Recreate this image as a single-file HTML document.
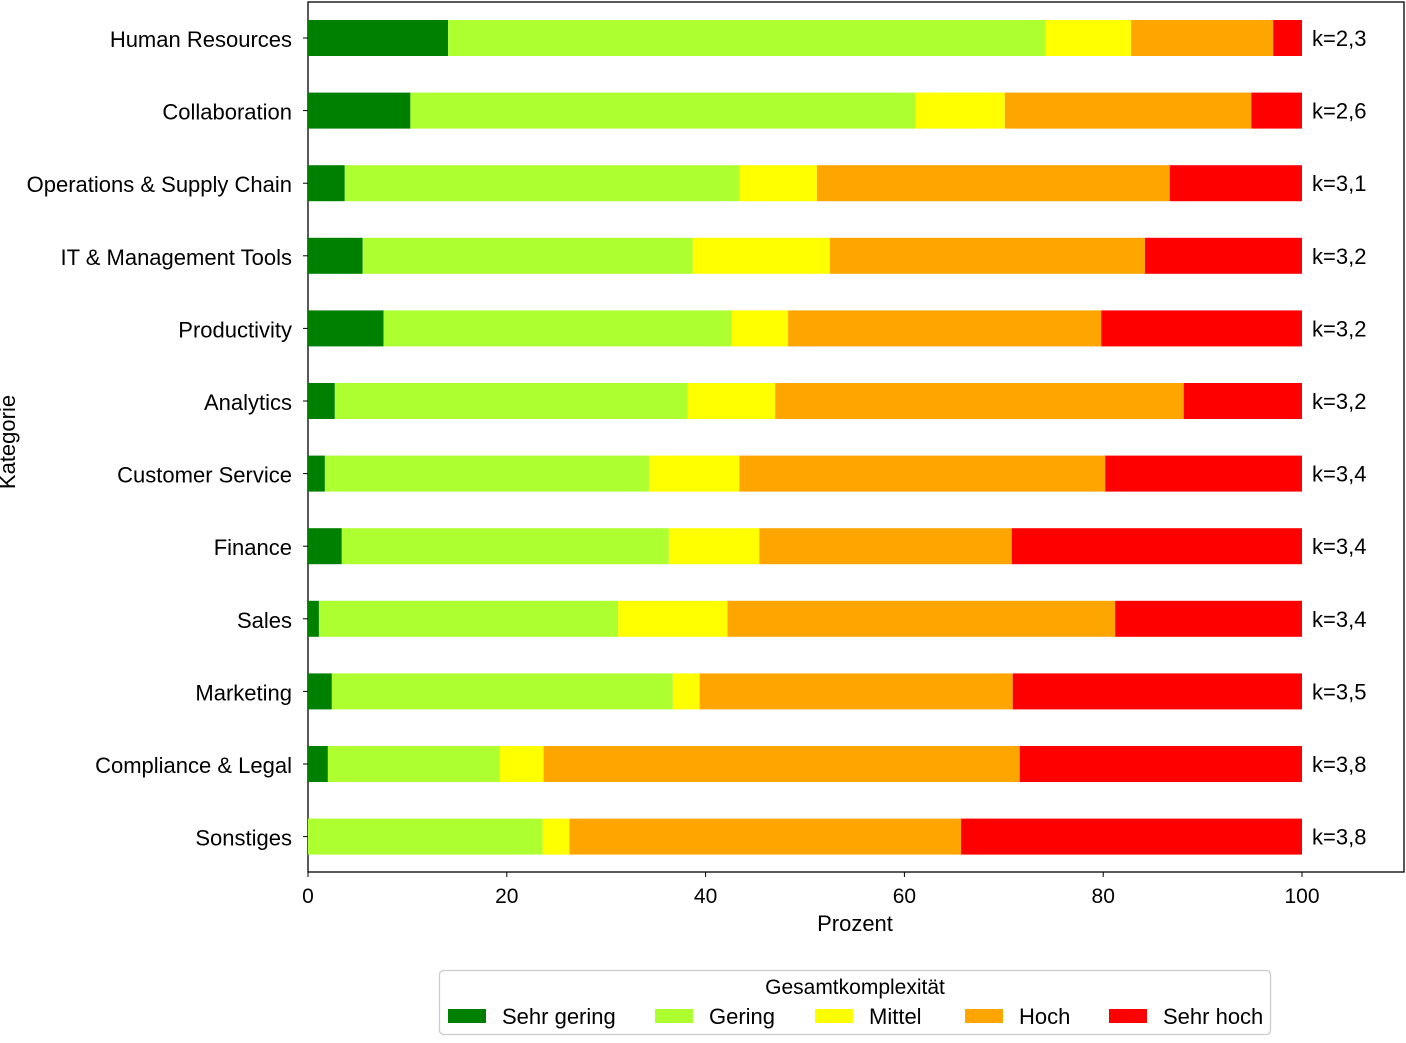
<!DOCTYPE html>
<html><head><meta charset="utf-8"><style>
body{margin:0;background:#fff}
svg{font-family:"Liberation Sans","DejaVu Sans",sans-serif}
</style></head><body>
<svg id="chart" width="1406" height="1038">
<rect x="308" y="2" width="1096" height="870" fill="none" stroke="#000" stroke-width="1.3"/>
<g id="bars"></g><g id="yticks"></g><g id="xticks"></g><g id="ann"></g>
<text x="855" y="931" font-size="22" text-anchor="middle">Prozent</text>
<text x="15" y="442" font-size="22" text-anchor="middle" transform="rotate(-90 15 442)">Kategorie</text>
<g>
<rect x="439.5" y="970.5" width="831" height="64" rx="4" fill="#fff" stroke="#ccc" stroke-width="1.3"/>
<text x="855" y="994" font-size="21" text-anchor="middle">Gesamtkomplexität</text>
<g id="leg"></g>
</g>
</svg>
<script>
const categories=["Human Resources","Collaboration","Operations & Supply Chain","IT & Management Tools","Productivity","Analytics","Customer Service","Finance","Sales","Marketing","Compliance & Legal","Sonstiges"];
const sehrGering=[14.1,10.3,3.7,5.5,7.6,2.7,1.7,3.4,1.1,2.4,2.0,0];
const gering=[60.1,50.8,39.7,33.2,35.0,35.5,32.6,32.9,30.1,34.3,17.3,23.6];
const mittel=[8.6,9.0,7.8,13.8,5.7,8.8,9.1,9.1,11.0,2.7,4.4,2.7];
const hoch=[14.3,24.8,35.5,31.7,31.5,41.1,36.8,25.4,39.0,31.5,47.9,39.4];
const sehrHoch=[2.9,5.1,13.3,15.8,20.2,11.9,19.8,29.2,18.8,29.1,28.4,34.3];
const kLabels=["k=2,3","k=2,6","k=3,1","k=3,2","k=3,2","k=3,2","k=3,4","k=3,4","k=3,4","k=3,5","k=3,8","k=3,8"];
const seriesNames=["Sehr gering","Gering","Mittel","Hoch","Sehr hoch"];
const xTicks=[0,20,40,60,80,100];
const series=[sehrGering,gering,mittel,hoch,sehrHoch];
const colors=["#008000","#adff2f","#ffff00","#ffa500","#ff0000"];
const NS="http://www.w3.org/2000/svg";
const x=v=>308+v*9.94;
const y=i=>38+i*72.6;
function mk(t,a,p){const e=document.createElementNS(NS,t);for(const k in a)e.setAttribute(k,a[k]);p.appendChild(e);return e;}
const gb=document.getElementById('bars'),gy=document.getElementById('yticks'),gx=document.getElementById('xticks'),ga=document.getElementById('ann'),gl=document.getElementById('leg');
categories.forEach((c,i)=>{
 let cum=0;
 series.forEach((s,j)=>{
  const r=mk('rect',{x:x(cum),y:y(i)-18,width:Math.max(0,x(cum+s[i])-x(cum)),height:36,fill:colors[j]},gb);
  
  
  cum+=s[i];
 });
 mk('line',{x1:303,x2:308,y1:y(i),y2:y(i),stroke:'#000'},gy);
 const t=mk('text',{x:292,y:y(i)+9,'font-size':22,'text-anchor':'end'},gy);t.textContent=c;
 
 
 const a=mk('text',{x:1312,y:y(i)+8,'font-size':22},ga);a.textContent=kLabels[i];
 
 
});
xTicks.forEach(v=>{
 mk('line',{x1:x(v),x2:x(v),y1:872,y2:877,stroke:'#000'},gx);
 const t=mk('text',{x:x(v),y:903,'font-size':21,'text-anchor':'middle'},gx);t.textContent=v;
 
 
});
const lx=[448,655,815,965,1109];
seriesNames.forEach((n,j)=>{
 const r=mk('rect',{x:lx[j],y:1009,width:38,height:14,fill:colors[j]},gl);
 
 
 const t=mk('text',{x:lx[j]+54,y:1024,'font-size':22},gl);t.textContent=n;
 
 
});
</script>
</body></html>
